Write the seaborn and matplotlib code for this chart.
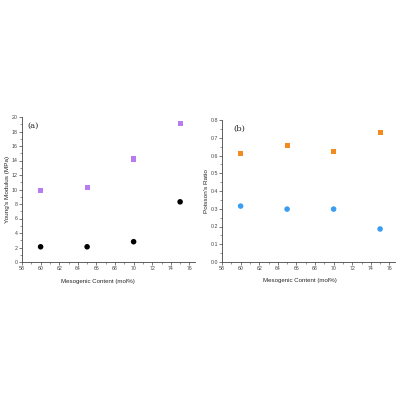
import matplotlib
matplotlib.use("Agg")
import matplotlib.pyplot as plt
import seaborn as sns
import pandas as pd
from matplotlib.ticker import MultipleLocator

mesogenic = [60, 65, 70, 75]
modulus_a = [9.9, 10.3, 14.2, 19.1]
modulus_b = [2.1, 2.1, 2.8, 8.3]
poisson_a = [0.61, 0.655, 0.622, 0.73]
poisson_b = [0.315, 0.298, 0.298, 0.186]

sns.set_style("white")
plt.rcParams['font.family'] = ['Liberation Sans', 'DejaVu Sans']

fig = plt.figure(figsize=(4, 4), dpi=100)
ax1 = fig.add_axes([0.055, 0.345, 0.4325, 0.3625])
ax2 = fig.add_axes([0.555, 0.345, 0.4325, 0.355])

df = pd.DataFrame({'x': mesogenic, 'ma': modulus_a, 'mb': modulus_b,
                   'pa': poisson_a, 'pb': poisson_b})

sns.scatterplot(data=df, x='x', y='ma', ax=ax1, marker='s', s=14,
                color='#b77cf4', edgecolor='none')
sns.scatterplot(data=df, x='x', y='mb', ax=ax1, marker='o', s=16,
                color='black', edgecolor='none')
sns.scatterplot(data=df, x='x', y='pa', ax=ax2, marker='s', s=14,
                color='#f28a1e', edgecolor='none')
sns.scatterplot(data=df, x='x', y='pb', ax=ax2, marker='o', s=16,
                color='#3a9df0', edgecolor='none')

ax1.set_ylim(0, 20)
ax1.yaxis.set_major_locator(MultipleLocator(2))
ax1.yaxis.set_minor_locator(MultipleLocator(1))
ax1.set_ylabel("Young's Modulus (MPa)", fontsize=4.6, labelpad=1)

ax2.set_ylim(0, 0.8)
ax2.yaxis.set_major_locator(MultipleLocator(0.1))
ax2.yaxis.set_minor_locator(MultipleLocator(0.05))
ax2.set_ylabel("Poisson's Ratio", fontsize=4.6, labelpad=1)

for ax, lab, lx, xl in [(ax1, '(a)', 0.032, 0.44), (ax2, '(b)', 0.065, 0.45)]:
    ax.set_xlim(58, 76.6)
    ax.xaxis.set_major_locator(MultipleLocator(2))
    ax.xaxis.set_minor_locator(MultipleLocator(1))
    ax.set_xlabel("Mesogenic Content (mol%)", fontsize=4.4, labelpad=3.5)
    ax.xaxis.set_label_coords(xl, -0.115)
    for s in ['top', 'right']:
        ax.spines[s].set_visible(False)
    for s in ['left', 'bottom']:
        ax.spines[s].set_color('#444444')
        ax.spines[s].set_linewidth(0.6)
    ax.tick_params(which='major', direction='out', length=2, width=0.5,
                   labelsize=3.8, colors='#444444', pad=1, left=True, bottom=True)
    ax.tick_params(which='minor', direction='out', length=1.2, width=0.4,
                   colors='#444444', left=True, bottom=True)
    ax.text(lx, 0.94, lab, transform=ax.transAxes, fontsize=6,
            family='DejaVu Serif', va='center', ha='left')

fig.savefig('out.png', dpi=100)
